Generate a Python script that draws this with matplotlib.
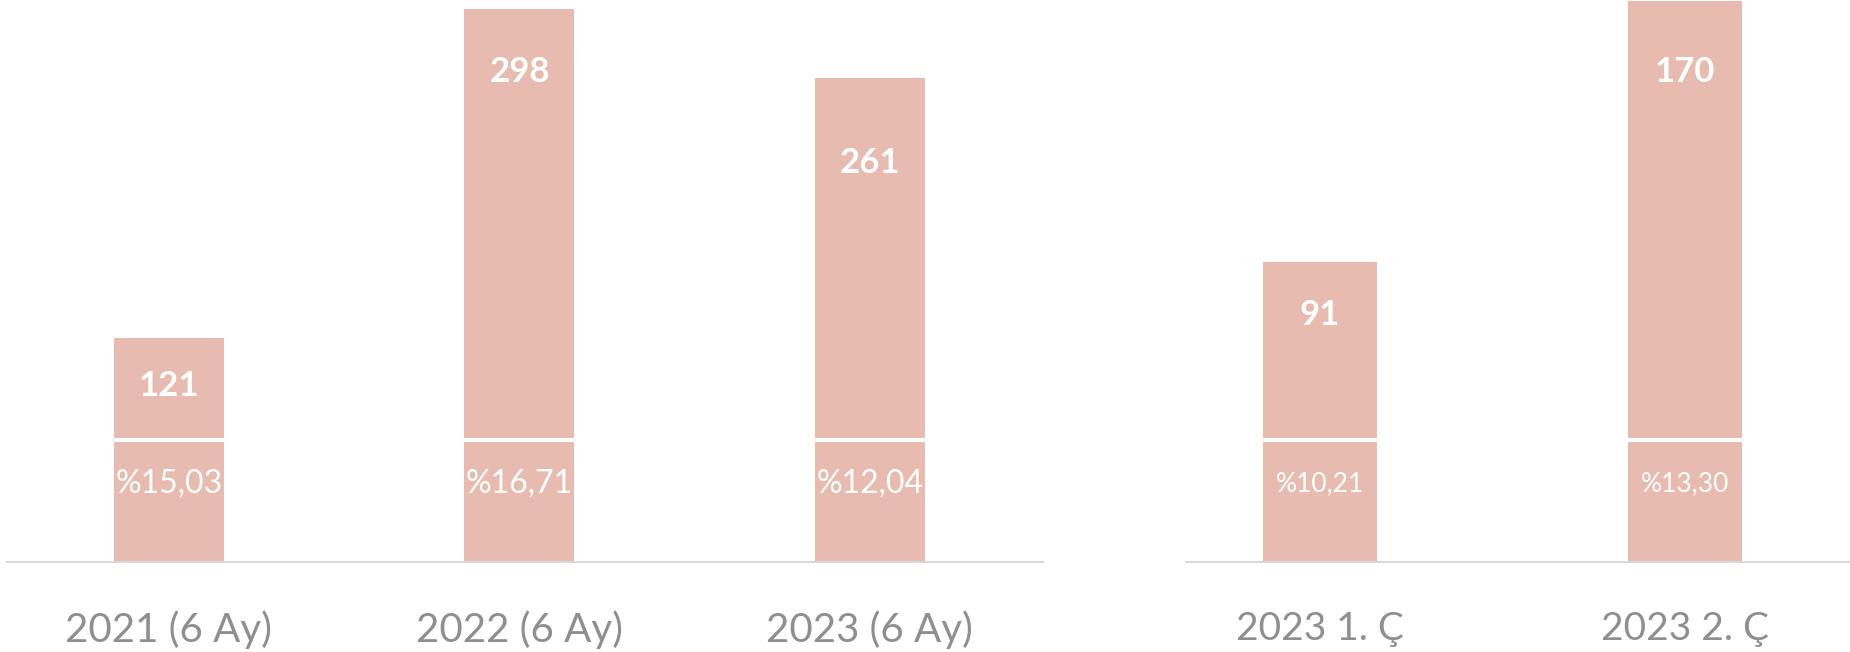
import matplotlib.pyplot as plt
import numpy as np

# --- data ---
left_labels = ["2021 (6 Ay)", "2022 (6 Ay)", "2023 (6 Ay)"]
left_values = [121, 298, 261]
left_pct = ["%15,03", "%16,71", "%12,04"]

right_labels = ["2023 1. Ç", "2023 2. Ç"]
right_values = [91, 170]
right_pct = ["%10,21", "%13,30"]

BAR = "#e7bbaf"
GRID = "#d9d9d9"
TICK = "#8f8f8f"
plt.rcParams['font.family'] = ['Lato', 'DejaVu Sans']

fig = plt.figure(figsize=(18.5, 6.52), dpi=100)
ax1 = fig.add_axes([7 / 1850, 90 / 652, 1036 / 1850, 562 / 652])
ax2 = fig.add_axes([1186 / 1850, 90 / 652, 664 / 1850, 562 / 652])


def draw(ax, labels, values, pcts, width, xlim, ytop, offsets, vsize, psize, tsize):
    x = np.arange(len(values))
    ax.bar(x, values, width=width, color=BAR, zorder=2)
    # white separator between value box and percentage box
    tr = ax.get_xaxis_transform()
    for xi in x:
        ax.plot([xi - width / 2, xi + width / 2], [0.217, 0.217], transform=tr,
                color="white", lw=3, zorder=3, solid_capstyle="butt")
    for xi, v, off in zip(x, values, offsets):
        ax.annotate(str(v), (xi, v), xytext=(0, -off), textcoords="offset points",
                    ha="center", va="center", color="white", fontsize=vsize,
                    fontweight="bold", zorder=4)
    for xi, p in zip(x, pcts):
        ax.text(xi, 0.14, p, transform=tr, ha="center", va="center",
                color="white", fontsize=psize, zorder=4)
    ax.set_xlim(*xlim)
    ax.set_ylim(0, ytop)
    ax.set_xticks(x, labels, fontsize=tsize, color=TICK)
    ax.tick_params(axis="x", length=0, pad=35)
    ax.set_yticks([])
    for s in ["top", "left", "right"]:
        ax.spines[s].set_visible(False)
    ax.spines["bottom"].set_color(GRID)
    ax.spines["bottom"].set_linewidth(1.5)


draw(ax1, left_labels, left_values, left_pct, 0.314, (-0.462, 2.494), 303,
     [35, 45, 61], 25, 23, 29)
draw(ax2, right_labels, right_values, right_pct, 0.312, (-0.367, 1.452), 170.4,
     [38, 51], 25, 19, 28)

fig.savefig("out.png", dpi=100)
